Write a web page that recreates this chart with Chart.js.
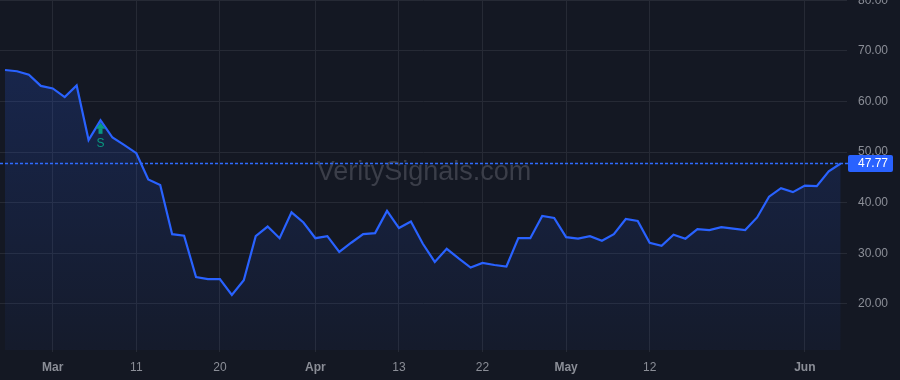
<!DOCTYPE html>
<html>
<head>
<meta charset="utf-8">
<script src="https://cdn.jsdelivr.net/npm/chart.js@4.4.1/dist/chart.umd.min.js"></script>
<style>
  html, body { margin: 0; padding: 0; background: #141823; }
  #wrap { width: 900px; height: 380px; position: relative; }
</style>
</head>
<body>
<div id="wrap"><canvas id="chart"></canvas></div>
<script>
// closing prices, one per bar
const prices = [
    66.25, 66.0, 65.3, 63.1, 62.6, 60.9, 63.2, 52.4, 56.3, 52.9,
    51.4, 49.8, 44.6, 43.5, 33.8, 33.5, 25.3, 24.9, 24.9, 21.8,
    24.7, 33.4, 35.3, 33.0, 38.1, 36.1, 33.0, 33.4, 30.3, 32.1,
    33.8, 34.0, 38.4, 35.0, 36.3, 31.9, 28.3, 30.9, 29.0, 27.2,
    28.1, 27.7, 27.4, 33.0, 33.0, 37.4, 37.0, 33.2, 32.9, 33.4,
    32.5, 33.8, 36.8, 36.4, 32.1, 31.5, 33.7, 32.9, 34.8, 34.6,
    35.2, 34.9, 34.6, 37.1, 41.2, 42.9, 42.1, 43.4, 43.3, 46.2,
    47.77
];

// bottom axis labels and the bar they sit on
const tickIdx = [4, 11, 18, 26, 33, 40, 47, 54, 67];
const tickText = ['Mar', '11', '20', 'Apr', '13', '22', 'May', '12', 'Jun'];
const monthTicks = ['Mar', 'Apr', 'May', 'Jun'];

const yTicks = [20, 30, 40, 50, 60, 70, 80];

// buy/sell signal markers
const signalIdx = [8];
const signalText = ['S'];

const BG = '#141823';
const GRID = '#262a35';
const TEXT = '#8b8e97';
const BLUE = '#2962ff';
const GREEN = '#089981';
const FONT = "'Liberation Sans', Arial, sans-serif";

const chartDecor = {
    id: 'chartDecor',
    beforeDraw(chart) {
        const ctx = chart.ctx;
        ctx.save();
        ctx.fillStyle = BG;
        ctx.fillRect(0, 0, chart.width, chart.height);
        ctx.restore();
    },
    beforeDatasetsDraw(chart) {
        const ctx = chart.ctx;
        ctx.save();
        ctx.fillStyle = '#3b3e49';
        ctx.font = '27px ' + FONT;
        ctx.textAlign = 'center';
        ctx.textBaseline = 'middle';
        ctx.fillText('VeritySignals.com', 424, 173);
        ctx.restore();
    },
    afterDatasetsDraw(chart) {
        const ctx = chart.ctx;
        const area = chart.chartArea;
        const xs = chart.scales.x;
        const ys = chart.scales.y;
        const last = prices[prices.length - 1];
        const py = Math.round(ys.getPixelForValue(last));

        // dotted last-price line
        ctx.save();
        ctx.fillStyle = '#2f6bff';
        for (let x = area.left; x < area.right; x += 5) {
            ctx.fillRect(x, py - 0.25, 3, 1.5);
        }
        ctx.restore();

        // signal arrows
        signalIdx.forEach((idx, k) => {
            const x = xs.getPixelForValue(idx);
            const y = ys.getPixelForValue(prices[idx]);
            ctx.save();
            ctx.fillStyle = GREEN;
            ctx.beginPath();
            ctx.moveTo(x, y + 2.5);
            ctx.lineTo(x - 5, y + 8.5);
            ctx.lineTo(x + 5, y + 8.5);
            ctx.closePath();
            ctx.fill();
            ctx.fillRect(x - 2, y + 8, 4, 5.5);
            ctx.font = '12px ' + FONT;
            ctx.textAlign = 'center';
            ctx.textBaseline = 'middle';
            ctx.fillText(signalText[k], x, y + 23);
            ctx.restore();
        });
    },
    afterDraw(chart) {
        const ctx = chart.ctx;
        const area = chart.chartArea;
        const ys = chart.scales.y;
        const last = prices[prices.length - 1];
        const py = ys.getPixelForValue(last);
        ctx.save();
        ctx.fillStyle = BLUE;
        ctx.beginPath();
        ctx.roundRect(area.right + 1, py - 8.5, 45, 17, 2);
        ctx.fill();
        ctx.fillStyle = '#ffffff';
        ctx.font = '12px ' + FONT;
        ctx.textAlign = 'left';
        ctx.textBaseline = 'middle';
        ctx.fillText(last.toFixed(2), area.right + 11, py + 0.5);
        ctx.restore();
    }
};

const canvas = document.getElementById('chart');

new Chart(canvas, {
    type: 'line',
    data: {
        datasets: [{
            data: prices.map((p, i) => ({ x: i, y: p })),
            borderColor: BLUE,
            borderWidth: 2.2,
            pointRadius: 0,
            tension: 0,
            fill: 'start',
            backgroundColor: (c) => {
                const area = c.chart.chartArea;
                if (!area) return 'rgba(41,98,255,0.15)';
                const g = c.chart.ctx.createLinearGradient(0, area.top, 0, area.bottom);
                g.addColorStop(0, 'rgba(41,98,255,0.22)');
                g.addColorStop(1, 'rgba(41,98,255,0.04)');
                return g;
            }
        }]
    },
    options: {
        responsive: true,
        maintainAspectRatio: false,
        animation: false,
        layout: { padding: 0 },
        plugins: {
            legend: { display: false },
            tooltip: { enabled: false }
        },
        scales: {
            x: {
                type: 'linear',
                min: -0.42,
                max: 70.53,
                border: { display: false },
                grid: { color: GRID, tickLength: 2, drawTicks: true },
                afterBuildTicks: (scale) => {
                    scale.ticks = tickIdx.map(v => ({ value: v }));
                },
                afterFit: (scale) => {
                    scale.height = 30;
                    scale.paddingLeft = 0;
                    scale.paddingRight = 0;
                },
                ticks: {
                    autoSkip: false,
                    maxRotation: 0,
                    padding: 8,
                    color: TEXT,
                    font: (c) => ({
                        family: FONT,
                        size: 12,
                        weight: monthTicks.includes(tickText[c.index]) ? 'bold' : 'normal'
                    }),
                    callback: (v, i) => tickText[i]
                }
            },
            y: {
                position: 'right',
                min: 10.9,
                max: 80.08,
                border: { display: false },
                grid: { color: GRID, drawTicks: false },
                afterBuildTicks: (scale) => {
                    scale.ticks = yTicks.map(v => ({ value: v }));
                },
                afterFit: (scale) => {
                    scale.width = 53;
                    scale.paddingTop = 0;
                    scale.paddingBottom = 0;
                },
                ticks: {
                    padding: 11,
                    color: TEXT,
                    font: { family: FONT, size: 12 },
                    callback: (v) => Number(v).toFixed(2)
                }
            }
        }
    },
    plugins: [chartDecor]
});
</script>
</body>
</html>
